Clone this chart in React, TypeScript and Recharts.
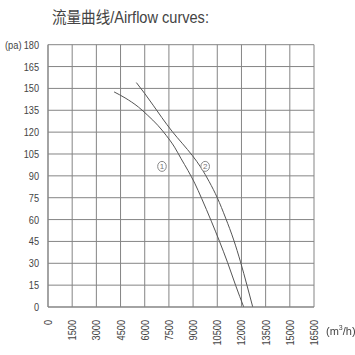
import React from "react";
import { LineChart, Line, XAxis, YAxis, CartesianGrid, ReferenceDot } from "recharts";

const xTicks = [0, 1500, 3000, 4500, 6000, 7500, 9000, 10500, 12000, 13500, 15000, 16500];
const yTicks = [0, 15, 30, 45, 60, 75, 90, 105, 120, 135, 150, 165, 180];

// curve ① (m³/h, pa)
const curve1 = [
  { q: 4100, p: 147.6 },
  { q: 4780, p: 143.5 },
  { q: 5600, p: 137.3 },
  { q: 6190, p: 131.5 },
  { q: 6810, p: 124.7 },
  { q: 7330, p: 117.8 },
  { q: 7850, p: 109.7 },
  { q: 8260, p: 101.7 },
  { q: 8680, p: 93.7 },
  { q: 9100, p: 85 },
  { q: 9530, p: 74.5 },
  { q: 10130, p: 58.9 },
  { q: 10640, p: 45 },
  { q: 11140, p: 30.5 },
  { q: 11640, p: 14.8 },
  { q: 12140, p: 0 },
];

// curve ②
const curve2 = [
  { q: 5480, p: 154 },
  { q: 6000, p: 146.5 },
  { q: 6520, p: 138.5 },
  { q: 7060, p: 130 },
  { q: 7700, p: 120.5 },
  { q: 8350, p: 112 },
  { q: 8950, p: 104 },
  { q: 9500, p: 95.5 },
  { q: 10000, p: 86 },
  { q: 10500, p: 75 },
  { q: 11020, p: 61 },
  { q: 11520, p: 46 },
  { q: 11940, p: 31 },
  { q: 12340, p: 15 },
  { q: 12700, p: 0 },
];

const markers = [
  { q: 7070, p: 96.5, label: "1" },
  { q: 9750, p: 96.5, label: "2" },
];

const FONT = '"Liberation Sans", Arial, sans-serif';
const GRID = "#858585";
const INK = "#555";
const TXT = "#444";

const YTick = (props: any) => {
  const { x, y, payload } = props;
  return (
    <g>
      {payload.value === 180 && (
        <text transform={`translate(5 ${y + 4}) scale(0.85 1)`} fontSize={11} fill={TXT} fontFamily={FONT}>
          (pa)
        </text>
      )}
      <text
        transform={`translate(${x} ${y + 4}) scale(0.8 1)`}
        textAnchor="end"
        fontSize={11.5}
        fill={TXT}
        fontFamily={FONT}
      >
        {payload.value}
      </text>
    </g>
  );
};

const XTick = (props: any) => {
  const { x, y, payload } = props;
  return (
    <text
      transform={`translate(${x + 4} ${y}) rotate(-90) scale(0.8 1)`}
      textAnchor="end"
      fontSize={11.5}
      fill={TXT}
      fontFamily={FONT}
    >
      {payload.value}
    </text>
  );
};

const Badge = (label: string) => (props: any) => {
  const { cx, cy } = props;
  return (
    <g>
      <ellipse cx={cx} cy={cy} rx={4.3} ry={5} fill="#fff" stroke="#888" strokeWidth={1} />
      <text x={cx} y={cy} dy={3} textAnchor="middle" fontSize={8} fill="#777" fontFamily={FONT}>
        {label}
      </text>
    </g>
  );
};

export default function App() {
  return (
    <div style={{ position: "fixed", left: 0, top: 0, width: 355, height: 355, background: "#fff" }}>
      <div
        style={{
          position: "absolute",
          left: 52,
          top: 4,
          fontSize: 16,
          color: TXT,
          fontFamily: `${FONT}, "Noto Sans CJK SC"`,
          whiteSpace: "nowrap",
          transform: "scaleX(0.91)",
          transformOrigin: "left top",
        }}
      >
        流量曲线/Airflow curves:
      </div>
      <LineChart width={355} height={355} margin={{ top: 44.7, right: 41, left: 0, bottom: 0 }}>
        <CartesianGrid stroke={GRID} strokeWidth={1} />
        <XAxis
          type="number"
          dataKey="q"
          domain={[0, 16500]}
          ticks={xTicks}
          interval={0}
          tick={<XTick />}
          tickLine={false}
          tickSize={0}
          tickMargin={13}
          axisLine={{ stroke: GRID }}
          height={48}
        />
        <YAxis
          type="number"
          dataKey="p"
          domain={[0, 180]}
          ticks={yTicks}
          interval={0}
          tick={<YTick />}
          tickLine={false}
          tickSize={0}
          tickMargin={9}
          axisLine={{ stroke: GRID }}
          width={48}
        />
        <Line data={curve1} dataKey="p" type="monotone" stroke={INK} strokeWidth={1} dot={false} isAnimationActive={false} />
        <Line data={curve2} dataKey="p" type="monotone" stroke={INK} strokeWidth={1} dot={false} isAnimationActive={false} />
        {markers.map((m) => (
          <ReferenceDot key={m.label} x={m.q} y={m.p} r={5} shape={Badge(m.label)} />
        ))}
      </LineChart>
      <div style={{ position: "absolute", left: 326, top: 324, fontSize: 11, color: TXT, fontFamily: FONT }}>
        (m<sup style={{ fontSize: 7 }}>3</sup>/h)
      </div>
    </div>
  );
}
